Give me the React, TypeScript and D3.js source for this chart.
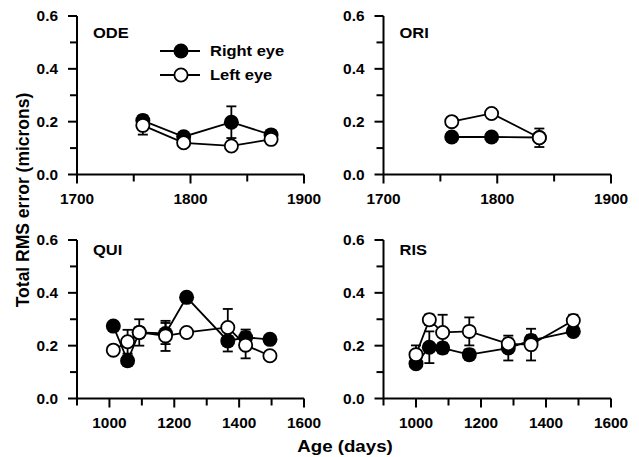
import React from 'react'
import * as d3 from 'd3'

// panel names
const panels = ['ODE', 'ORI', 'QUI', 'RIS']

// ages (days) per panel
const agesODE = [1758, 1794, 1836, 1871]
const agesORI = [1760, 1795, 1837]
const agesQUI = [1012, 1056, 1092, 1173, 1238, 1365, 1420, 1495]
const agesRIS = [1000, 1041, 1082, 1164, 1284, 1354, 1484]

// right eye (filled)
const rightODE = [0.204, 0.143, 0.198, 0.15]
const rightORI = [0.142, 0.142, 0.14]
const rightQUI = [0.274, 0.143, 0.25, 0.246, 0.383, 0.218, 0.231, 0.224]
const rightRIS = [0.132, 0.194, 0.191, 0.166, 0.191, 0.22, 0.254]
const rightErrODE = [0.02, 0.015, 0.06, 0.015]
const rightErrORI = [0.01, 0.01, 0.01]
const rightErrQUI = [0.01, 0.02, 0.02, 0.04, 0.01, 0.04, 0.03, 0.01]
const rightErrRIS = [0.01, 0.06, 0.02, 0.02, 0.047, 0.02, 0.01]

// left eye (open)
const leftODE = [0.186, 0.12, 0.108, 0.133]
const leftORI = [0.2, 0.231, 0.139]
const leftQUI = [0.183, 0.215, 0.25, 0.237, 0.25, 0.269, 0.202, 0.162]
const leftRIS = [0.166, 0.298, 0.25, 0.254, 0.207, 0.204, 0.295]
const leftErrODE = [0.035, 0.015, 0.01, 0.01]
const leftErrORI = [0.01, 0.01, 0.035]
const leftErrQUI = [0.01, 0.045, 0.05, 0.057, 0.01, 0.07, 0.05, 0.01]
const leftErrRIS = [0.035, 0.02, 0.067, 0.053, 0.02, 0.06, 0.022]

// axis ticks
const xTopMajor = [1700, 1800, 1900]
const xTopMinor = [1750, 1850]
const xBotMajor = [1000, 1200, 1400, 1600]
const xBotMinor = [900, 1100, 1300, 1500]
const yMajor = [0, 0.2, 0.4, 0.6]
const yMinor = [0.1, 0.3, 0.5]

const FONT = '"Liberation Sans", Arial, Helvetica, sans-serif'
const SX = 1.1 // the original's lettering is a little wider than Arial

type PanelCfg = {
  name: string
  ages: number[]
  right: number[]
  rightErr: number[]
  left: number[]
  leftErr: number[]
  xDomain: [number, number]
  xMajor: number[]
  xMinor: number[]
  x0: number
  x1: number
  yTop: number
  yBottom: number
  labelDy: number
  legend?: boolean
}

const cfgs: PanelCfg[] = [
  { name: panels[0], ages: agesODE, right: rightODE, rightErr: rightErrODE, left: leftODE, leftErr: leftErrODE,
    xDomain: [1700, 1900], xMajor: xTopMajor, xMinor: xTopMinor, x0: 77, x1: 304, yTop: 16, yBottom: 174.5, labelDy: 22, legend: true },
  { name: panels[1], ages: agesORI, right: rightORI, rightErr: rightErrORI, left: leftORI, leftErr: leftErrORI,
    xDomain: [1700, 1900], xMajor: xTopMajor, xMinor: xTopMinor, x0: 383.5, x1: 611, yTop: 16, yBottom: 174.5, labelDy: 22 },
  { name: panels[2], ages: agesQUI, right: rightQUI, rightErr: rightErrQUI, left: leftQUI, leftErr: leftErrQUI,
    xDomain: [900, 1600], xMajor: xBotMajor, xMinor: xBotMinor, x0: 77, x1: 304, yTop: 240, yBottom: 398.5, labelDy: 15 },
  { name: panels[3], ages: agesRIS, right: rightRIS, rightErr: rightErrRIS, left: leftRIS, leftErr: leftErrRIS,
    xDomain: [900, 1600], xMajor: xBotMajor, xMinor: xBotMinor, x0: 383.5, x1: 611, yTop: 240, yBottom: 398.5, labelDy: 15 },
]

const R = 7.5

function T({ x, y, size, anchor = 'start', children }: any) {
  return (
    <text transform={`translate(${x},${y}) scale(${SX},1)`} textAnchor={anchor} fontSize={size}
      fontFamily={FONT} fontWeight='bold'>{children}</text>
  )
}

function Series({ ages, vals, errs, x, y, filled }: any) {
  const line = d3.line<number>().x((d, i) => x(ages[i])).y(d => y(d))
  return (
    <g>
      {vals.map((v: number, i: number) => (
        <g key={'e' + i} stroke='#000' strokeWidth={1.8}>
          <line x1={x(ages[i])} x2={x(ages[i])} y1={y(v - errs[i])} y2={y(v + errs[i])} />
          <line x1={x(ages[i]) - 5} x2={x(ages[i]) + 5} y1={y(v - errs[i])} y2={y(v - errs[i])} />
          <line x1={x(ages[i]) - 5} x2={x(ages[i]) + 5} y1={y(v + errs[i])} y2={y(v + errs[i])} />
        </g>
      ))}
      <path d={line(vals) || ''} fill='none' stroke='#000' strokeWidth={1.8} />
      {vals.map((v: number, i: number) => (
        <circle key={'c' + i} cx={x(ages[i])} cy={y(v)} r={filled ? R : R - 0.9}
          fill={filled ? '#000' : '#fff'} stroke='#000' strokeWidth={filled ? 0 : 1.8} />
      ))}
    </g>
  )
}

function Panel({ c }: { c: PanelCfg }) {
  const x = d3.scaleLinear().domain(c.xDomain).range([c.x0, c.x1])
  const y = d3.scaleLinear().domain([0, 0.6]).range([c.yBottom, c.yTop])
  return (
    <g>
      {/* axes */}
      <line x1={c.x0} x2={c.x1} y1={c.yBottom} y2={c.yBottom} stroke='#000' strokeWidth={2} />
      <line x1={c.x0} x2={c.x0} y1={c.yTop} y2={c.yBottom} stroke='#000' strokeWidth={2} />
      {c.xMajor.map(t => (
        <g key={'xm' + t}>
          <line x1={x(t)} x2={x(t)} y1={c.yBottom} y2={c.yBottom + 9} stroke='#000' strokeWidth={2} />
          <T x={x(t)} y={c.yBottom + 29} anchor='middle' size={14}>{t}</T>
        </g>
      ))}
      {c.xMinor.map(t => (
        <line key={'xn' + t} x1={x(t)} x2={x(t)} y1={c.yBottom} y2={c.yBottom + 7} stroke='#000' strokeWidth={2} />
      ))}
      {yMajor.map(t => (
        <g key={'ym' + t}>
          <line x1={c.x0 - 9} x2={c.x0} y1={y(t)} y2={y(t)} stroke='#000' strokeWidth={2} />
          <T x={c.x0 - 19} y={y(t) + 5} anchor='end' size={14}>{t.toFixed(1)}</T>
        </g>
      ))}
      {yMinor.map(t => (
        <line key={'yn' + t} x1={c.x0 - 7} x2={c.x0} y1={y(t)} y2={y(t)} stroke='#000' strokeWidth={2} />
      ))}
      <T x={c.x0 + 16} y={c.yTop + c.labelDy} size={15}>{c.name}</T>

      <Series ages={c.ages} vals={c.right} errs={c.rightErr} x={x} y={y} filled />
      <Series ages={c.ages} vals={c.left} errs={c.leftErr} x={x} y={y} filled={false} />

      {c.legend && (
        <g>
          <line x1={160} x2={200} y1={51} y2={51} stroke='#000' strokeWidth={1.8} />
          <circle cx={181} cy={51} r={R} fill='#000' />
          <T x={210} y={56} size={15}>Right eye</T>
          <line x1={160} x2={200} y1={75} y2={75} stroke='#000' strokeWidth={1.8} />
          <circle cx={181} cy={75} r={R - 0.9} fill='#fff' stroke='#000' strokeWidth={1.8} />
          <T x={210} y={80} size={15}>Left eye</T>
        </g>
      )}
    </g>
  )
}

export default function App() {
  return (
    <svg width={639} height={457} style={{ position: 'absolute', left: 0, top: 0, background: '#fff' }}>
      <rect width={639} height={457} fill='#fff' />
      {cfgs.map(c => <Panel key={c.name} c={c} />)}
      <text transform='translate(29,200) rotate(-90)' textAnchor='middle' fontFamily={FONT} fontWeight='bold' fontSize={17.5}>
        Total RMS error (microns)
      </text>
      <T x={345} y={452} anchor='middle' size={17}>Age (days)</T>
    </svg>
  )
}
